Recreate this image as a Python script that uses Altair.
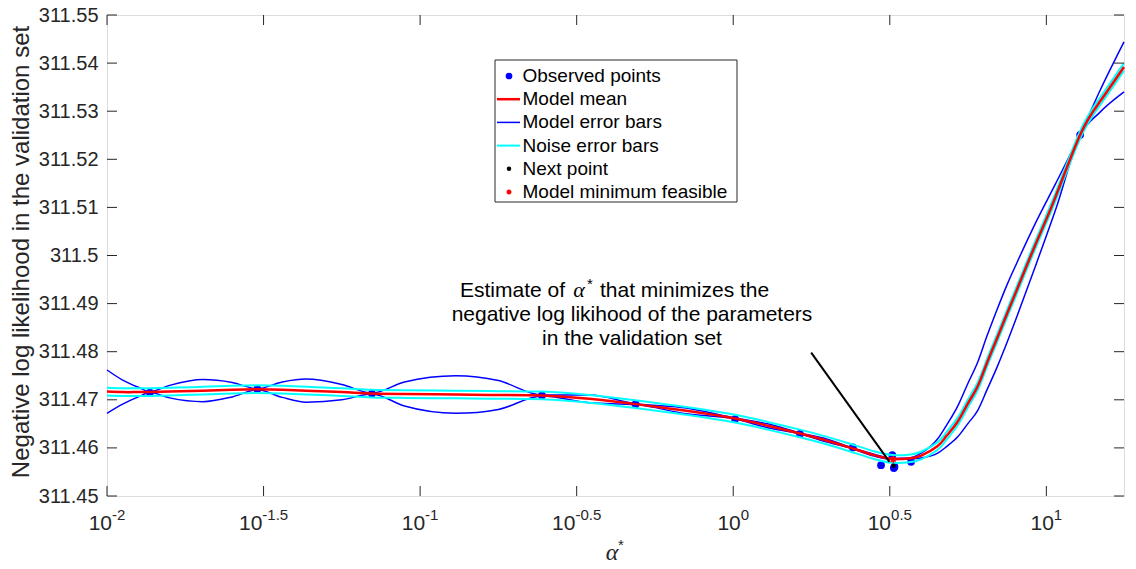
import altair as alt
import pandas as pd

# ---------------- data ----------------
log_alpha = [-2.000, -1.950, -1.900, -1.863, -1.800, -1.694, -1.600, -1.520, -1.440, -1.364,
             -1.250, -1.154, -1.050, -0.886, -0.750, -0.611, -0.460, -0.312, -0.150, 0.006,
             0.110, 0.213, 0.300, 0.376, 0.450, 0.510, 0.561, 0.600, 0.653, 0.680,
             0.717, 0.750, 0.780, 0.810, 0.844, 0.875, 0.906, 0.968, 1.030, 1.108,
             1.170, 1.248]
mean_nll = [311.4717, 311.4716, 311.4716, 311.4716, 311.4717, 311.4719, 311.4721, 311.4722, 311.4721, 311.4719,
            311.4716, 311.4713, 311.4712, 311.4711, 311.4710, 311.4709, 311.4702, 311.4691, 311.4677, 311.4661,
            311.4646, 311.4630, 311.4615, 311.4600, 311.4585, 311.4577, 311.4578, 311.4584, 311.4604, 311.4624,
            311.4655, 311.4693, 311.4727, 311.4776, 311.4830, 311.4880, 311.4929, 311.5027, 311.5123, 311.5251,
            311.5319, 311.5392]
model_upper = [311.4762, 311.4741, 311.4726, 311.4717, 311.4730, 311.4742, 311.4736, 311.4723, 311.4737, 311.4743,
               311.4732, 311.4714, 311.4737, 311.4750, 311.4740, 311.4710, 311.4710, 311.4692, 311.4683, 311.4662,
               311.4650, 311.4631, 311.4618, 311.4601, 311.4587, 311.4578, 311.4579, 311.4589, 311.4619, 311.4646,
               311.4687, 311.4735, 311.4777, 311.4832, 311.4890, 311.4940, 311.4985, 311.5071, 311.5150, 311.5252,
               311.5341, 311.5444]
model_lower = [311.4672, 311.4691, 311.4706, 311.4715, 311.4704, 311.4696, 311.4706, 311.4721, 311.4705, 311.4695,
               311.4700, 311.4712, 311.4687, 311.4672, 311.4680, 311.4708, 311.4694, 311.4690, 311.4671, 311.4660,
               311.4642, 311.4629, 311.4612, 311.4599, 311.4583, 311.4576, 311.4577, 311.4579, 311.4589, 311.4602,
               311.4623, 311.4651, 311.4677, 311.4720, 311.4770, 311.4820, 311.4873, 311.4983, 311.5096, 311.5250,
               311.5297, 311.5340]
noise_upper = [311.4725, 311.4724, 311.4724, 311.4724, 311.4725, 311.4727, 311.4729, 311.4730, 311.4729, 311.4727,
               311.4724, 311.4721, 311.4720, 311.4719, 311.4718, 311.4717, 311.4710, 311.4699, 311.4685, 311.4669,
               311.4654, 311.4638, 311.4623, 311.4608, 311.4593, 311.4585, 311.4586, 311.4592, 311.4612, 311.4632,
               311.4663, 311.4701, 311.4735, 311.4784, 311.4838, 311.4888, 311.4937, 311.5035, 311.5131, 311.5259,
               311.5327, 311.5400]
noise_lower = [311.4709, 311.4708, 311.4708, 311.4708, 311.4709, 311.4711, 311.4713, 311.4714, 311.4713, 311.4711,
               311.4708, 311.4705, 311.4704, 311.4703, 311.4702, 311.4701, 311.4694, 311.4683, 311.4669, 311.4653,
               311.4638, 311.4622, 311.4607, 311.4592, 311.4577, 311.4569, 311.4570, 311.4576, 311.4596, 311.4616,
               311.4647, 311.4685, 311.4719, 311.4768, 311.4822, 311.4872, 311.4921, 311.5019, 311.5115, 311.5243,
               311.5311, 311.5384]

obs_log_alpha = [-1.863, -1.520, -1.154, -0.611, -0.312, 0.006, 0.213, 0.382, 0.472, 0.508, 0.515, 0.513, 0.568, 1.108]
obs_nll = [311.4715, 311.4722, 311.4713, 311.4709, 311.4691, 311.4660, 311.4629, 311.4601, 311.4564, 311.4585,
           311.4561, 311.4558, 311.4571, 311.5251]
next_log_alpha = [0.512]
next_nll = [311.4563]
min_log_alpha = [0.511]
min_nll = [311.4576]

x_tick_values = [-2, -1.5, -1, -0.5, 0, 0.5, 1]
x_tick_exponents = ["-2", "-1.5", "-1", "-0.5", "0", "0.5", "1"]
y_tick_values = [311.45, 311.46, 311.47, 311.48, 311.49, 311.50, 311.51, 311.52, 311.53, 311.54, 311.55]

legend_labels = ["Observed points", "Model mean", "Model error bars", "Noise error bars",
                 "Next point", "Model minimum feasible"]
y_title = "Negative log likelihood in the validation set"
annotation_parts = ["Estimate of", "that minimizes the", "negative log likihood of the parameters",
                    "in the validation set"]
arrow_from = [0.249, 311.4798]
arrow_to = [0.499, 311.4571]

# ---------------- chart ----------------
W, H = 1017, 481
FONT = "Arial, Liberation Sans, sans-serif"
SERIF = "Liberation Serif, DejaVu Serif, serif"
AX = "#262626"

xs = alt.Scale(domain=[-2, 1.248], nice=False, zero=False)
ys = alt.Scale(domain=[311.45, 311.55], nice=False, zero=False)
yaxis = alt.Axis(values=y_tick_values, format=".5~r", labelFontSize=20, labelFont=FONT,
                 labelColor=AX, tickSize=0, labelPadding=9, domain=False, grid=False, title=None)


def X(f):
    return alt.X(f, scale=xs, axis=None)


def Y(f):
    return alt.Y(f, scale=ys, axis=yaxis)


curves = pd.DataFrame({"lx": log_alpha, "mean": mean_nll, "mhi": model_upper, "mlo": model_lower,
                       "nhi": noise_upper, "nlo": noise_lower})
obs = pd.DataFrame({"lx": obs_log_alpha, "v": obs_nll})
nxt = pd.DataFrame({"lx": next_log_alpha, "v": next_nll})
mn = pd.DataFrame({"lx": min_log_alpha, "v": min_nll})
one = pd.DataFrame({"k": [0]})

ASTERISK = "M0,-1L0,1M-1,0L1,0M-0.7,-0.7L0.7,0.7M-0.7,0.7L0.7,-0.7"

layers = []

# observed points
layers.append(alt.Chart(obs).mark_point(filled=True, color="#0000FF", size=60, opacity=1)
              .encode(x=X("lx:Q"), y=Y("v:Q")))


def line(col, color, width, interp):
    return alt.Chart(curves).mark_line(color=color, strokeWidth=width, interpolate=interp) \
        .encode(x=X("lx:Q"), y=Y(f"{col}:Q"))


layers += [line("mhi", "#0000FF", 1.5, "monotone"), line("mlo", "#0000FF", 1.5, "monotone"),
           line("nhi", "#00FFFF", 2, "natural"), line("nlo", "#00FFFF", 2, "natural"),
           line("mean", "#FF0000", 2.5, "natural")]

layers.append(alt.Chart(nxt).mark_point(filled=True, color="black", size=20, opacity=1)
              .encode(x=X("lx:Q"), y=Y("v:Q")))
layers.append(alt.Chart(mn).mark_point(shape=ASTERISK, filled=False, stroke="#FF0000", strokeWidth=1.5,
                                       size=45, opacity=1)
              .encode(x=X("lx:Q"), y=Y("v:Q")))

# arrow
arrow = pd.DataFrame({"x": [arrow_from[0]], "y": [arrow_from[1]], "x2": [arrow_to[0]], "y2": [arrow_to[1]]})
layers.append(alt.Chart(arrow).mark_rule(color="black", strokeWidth=2)
              .encode(x=X("x:Q"), y=Y("y:Q"), x2="x2:Q", y2="y2:Q"))

# inward ticks on all four sides
xt = pd.DataFrame({"v": x_tick_values})
yt = pd.DataFrame({"v": y_tick_values})
layers.append(alt.Chart(xt).mark_rule(color=AX, strokeWidth=1)
              .encode(x=X("v:Q"), y=alt.value(H), y2=alt.value(H - 10)))
layers.append(alt.Chart(xt).mark_rule(color=AX, strokeWidth=1)
              .encode(x=X("v:Q"), y=alt.value(0), y2=alt.value(10)))
layers.append(alt.Chart(yt).mark_rule(color=AX, strokeWidth=1)
              .encode(y=Y("v:Q"), x=alt.value(0), x2=alt.value(10)))
layers.append(alt.Chart(yt).mark_rule(color=AX, strokeWidth=1)
              .encode(y=Y("v:Q"), x=alt.value(W), x2=alt.value(W - 10)))

# x tick labels "10^e"
tl = pd.DataFrame({"v": x_tick_values, "e": x_tick_exponents})
wexpr = ("8.34*length(replace(datum.e, regexp('[^0-9]','g'), ''))"
         " + 4.17*length(replace(datum.e, regexp('[^.]','g'), ''))"
         " + 5.0*length(replace(datum.e, regexp('[^-]','g'), ''))")
tl_base = alt.Chart(tl).transform_calculate(w=wexpr).transform_calculate(
    xj=f"datum.v + (23.35 - datum.w)/2 * 3.248/{W}")
layers.append(tl_base.mark_text(text="10", align="right", baseline="alphabetic", fontSize=21,
                                font=FONT, color=AX)
              .encode(x=X("xj:Q"), y=alt.value(515)))
layers.append(tl_base.mark_text(align="left", baseline="alphabetic", fontSize=15, font=FONT, color=AX)
              .encode(x=X("xj:Q"), y=alt.value(505), text="e:N"))

# x-axis title alpha*
layers.append(alt.Chart(one).mark_text(text="α", fontSize=24, font=SERIF, fontStyle="italic",
                                       align="center", baseline="alphabetic", color=AX)
              .encode(x=alt.value(505), y=alt.value(545)))
layers.append(alt.Chart(one).mark_text(text="*", fontSize=15, font=FONT, align="center",
                                       baseline="alphabetic", color=AX)
              .encode(x=alt.value(514), y=alt.value(535)))

# y-axis title
layers.append(alt.Chart(one).mark_text(text=y_title, fontSize=24, font=FONT, angle=270, align="center",
                                       baseline="middle", color=AX)
              .encode(x=alt.value(-85), y=alt.value(237)))


# annotation text
def txt(s, x, y, align, size=21, font=FONT, style="normal"):
    return alt.Chart(one).mark_text(text=s, fontSize=size, font=font, fontStyle=style, align=align,
                                    baseline="alphabetic", color="black") \
        .encode(x=alt.value(x), y=alt.value(y))


layers.append(txt(annotation_parts[0], 458, 282, "right"))
layers.append(txt("α", 472, 282, "center", size=22, font=SERIF, style="italic"))
layers.append(txt("*", 483, 274, "center", size=15))
layers.append(txt(annotation_parts[1], 493, 282, "left"))
layers.append(txt(annotation_parts[2], 525, 306, "center"))
layers.append(txt(annotation_parts[3], 525, 330, "center"))

# legend
layers.append(alt.Chart(one).mark_rect(fill="white", stroke=AX, strokeWidth=1)
              .encode(x=alt.value(388), x2=alt.value(630), y=alt.value(45), y2=alt.value(187)))
row_y = [61, 84.2, 107.4, 130.6, 153.8, 177]
for i, lab in enumerate(legend_labels):
    layers.append(alt.Chart(one).mark_text(text=lab, fontSize=19, font=FONT, align="left",
                                           baseline="middle", color="black")
                  .encode(x=alt.value(415.5), y=alt.value(row_y[i])))
layers.append(alt.Chart(one).mark_point(filled=True, color="#0000FF", size=45, opacity=1)
              .encode(x=alt.value(402), y=alt.value(row_y[0])))
for i, (c, sw) in zip([1, 2, 3], [("#FF0000", 2.5), ("#0000FF", 1.5), ("#00FFFF", 2)]):
    layers.append(alt.Chart(one).mark_rule(color=c, strokeWidth=sw)
                  .encode(x=alt.value(390), x2=alt.value(413), y=alt.value(row_y[i])))
layers.append(alt.Chart(one).mark_point(filled=True, color="black", size=20, opacity=1)
              .encode(x=alt.value(402), y=alt.value(row_y[4])))
layers.append(alt.Chart(one).mark_point(shape=ASTERISK, filled=False, stroke="#FF0000", strokeWidth=1.5,
                                        size=25, opacity=1)
              .encode(x=alt.value(402), y=alt.value(row_y[5])))

chart = alt.layer(*layers).properties(
    width=W, height=H,
    autosize=alt.AutoSizeParams(type="none"),
    padding={"left": 107, "top": 15, "right": 12, "bottom": 73},
).configure_view(stroke=AX, strokeWidth=1.2).configure(background="white")

chart.save("out.html", embed_options={"renderer": "svg", "actions": False})
